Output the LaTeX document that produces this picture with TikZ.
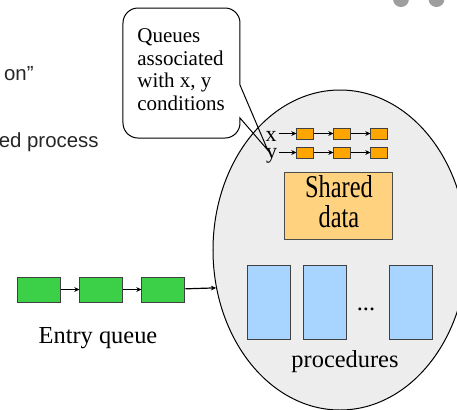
\documentclass[tikz,border=0pt]{standalone}
\usepackage{fontspec}
\setmainfont{Liberation Serif}
\newfontfamily\slidesans{Liberation Sans}
\usetikzlibrary{arrows.meta,positioning,shapes.geometric}

\definecolor{monitorfill}{HTML}{EDEDED}
\definecolor{entrygreen}{HTML}{3CD048}
\definecolor{condorange}{HTML}{FFA500}
\definecolor{datayellow}{HTML}{FFD27F}
\definecolor{procblue}{HTML}{A8D5FF}
\definecolor{dotgray}{HTML}{9E9E9E}

\tikzset{
  box/.style={draw=black!75, line width=0.5pt, inner sep=0pt},
  entrybox/.style={box, fill=entrygreen, minimum width=21.5pt, minimum height=12.5pt},
  condbox/.style={box, fill=condorange, minimum width=8.5pt, minimum height=5.5pt},
  procbox/.style={box, fill=procblue, minimum width=21.5pt, minimum height=37pt},
  link/.style={->, line width=0.5pt},
}

\begin{document}
\begin{tikzpicture}[x=0.5pt, y=-0.5pt, >={Stealth[length=2.6pt,width=2.4pt]},
    font=\fontsize{12.2}{14}\selectfont]
  \useasboundingbox (0,0) rectangle (457,409);

  % leftover slide text and window dots
  \fill[dotgray] (401,-1) circle [radius=4pt] (436.5,-1) circle [radius=4pt];
  \begin{scope}[every node/.style={anchor=base east, inner sep=0pt, text=black!85,
      font=\slidesans\fontsize{10.2}{12}\selectfont}]
    \node (frag1) at (34,80.7) {on”};
    \node (frag2) at (99,147) {ed process};
  \end{scope}

  % monitor
  \node (monitor) [ellipse, draw, fill=monitorfill, line width=0.5pt,
    minimum width=127pt, minimum height=160pt, inner sep=0pt] at (340,250) {};

  % condition queues
  \begin{scope}[node distance=9.5pt]
    \node (x1) [condbox] at (305.5,133.5) {};
    \node (x2) [condbox, right=of x1] {};
    \node (x3) [condbox, right=of x2] {};
    \node (y1) [condbox] at (305.5,152.5) {};
    \node (y2) [condbox, right=of y1] {};
    \node (y3) [condbox, right=of y2] {};
  \end{scope}
  \begin{scope}[every node/.style={anchor=base east, inner sep=0pt,
      font=\fontsize{11}{12}\selectfont}]
    \node (xlab) at (277,141.7) {x};
    \node (ylab) at (277.5,158) {y};
  \end{scope}
  \path ([xshift=1pt]xlab.east |- x1) edge[link] (x1)
        (x1) edge[link] (x2)
        (x2) edge[link] (x3);
  \path ([xshift=1pt]ylab.east |- y1) edge[link] (y1)
        (y1) edge[link] (y2)
        (y2) edge[link] (y3);

  % callout
  \coordinate (tip) at (267.7,150);
  \draw[line width=0.5pt] (240,85) -- (tip) -- (240,118) [rounded corners=7.5pt]
    -- (240,138) -- (123,138) -- (123,8) -- (240,8) -- (240,85);
  \node (note) [anchor=north west, align=left, inner sep=0pt,
    font=\fontsize{10.5}{11.4}\selectfont] at (137,28)
    {Queues\\associated\\with x, y\\conditions};

  % shared data
  \node (shared) [box, fill=datayellow, draw=black!70, minimum width=54pt,
    minimum height=33.5pt] at (339,205.5)
    {\scalebox{1}[1.3]{\fontsize{12.2}{10.8}\selectfont
      \begin{tabular}{@{}c@{}}Shared\\data\end{tabular}}};

  % procedures
  \begin{scope}[node distance=6pt]
    \node (p1) [procbox] at (269.5,302) {};
    \node (p2) [procbox, right=of p1] {};
    \node (p3) [procbox, right=21pt of p2] {};
  \end{scope}
  \node (pdots) [anchor=base] at (366,310) {...};
  \node (plabel) [anchor=base] at (345,367) {procedures};

  % entry queue
  \begin{scope}[node distance=9pt]
    \node (e1) [entrybox] at (39.5,289.5) {};
    \node (e2) [entrybox, right=of e1] {};
    \node (e3) [entrybox, right=of e2] {};
  \end{scope}
  \path (e1) edge[link] (e2)
        (e2) edge[link] (e3)
        (e3) edge[link, line width=0.6pt] (monitor.197.8);
  \node (elabel) [anchor=base] at (98,343) {Entry queue};
\end{tikzpicture}
\end{document}
